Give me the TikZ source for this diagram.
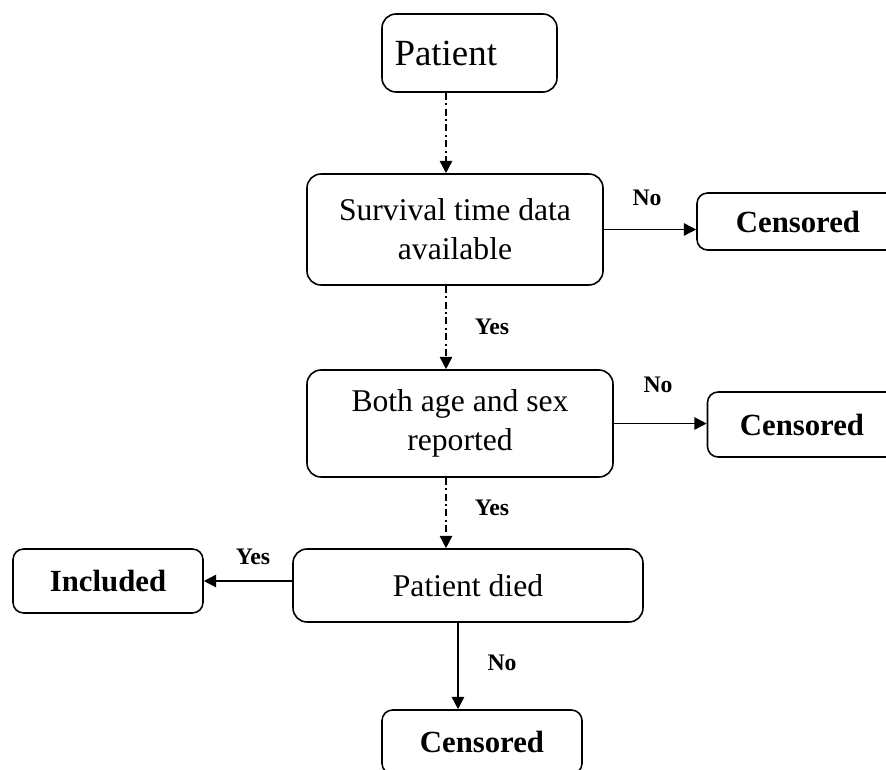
\documentclass[tikz,border=0pt]{standalone}
\usepackage{fontspec}
\setmainfont{Liberation Serif}
\usetikzlibrary{arrows.meta}

\begin{document}
\begin{tikzpicture}[
  line width=0.9pt, >={Triangle[length=7pt,width=7pt]},
    box/.style={draw, rounded corners=8pt, align=center,
                font=\fontsize{18}{22}\selectfont},
    cbox/.style={draw, rounded corners=6pt, align=center,
                font=\fontsize{17.5}{21.5}\selectfont\bfseries},
    ans/.style={font=\fontsize{13.5}{16}\selectfont\bfseries},
    dd/.style={dash pattern=on 4pt off 2pt on 1pt off 2pt},
]
\useasboundingbox (0,0) rectangle (17.72,15.38);
\clip (0,0) rectangle (17.72,15.38);
\node[box, font=\fontsize{21}{25}\selectfont, text width=3.0cm, inner xsep=0.25cm,
      align=left, minimum height=1.56cm] (patient) at (9.39,14.32) {Patient};
\node[box, minimum width=5.92cm, minimum height=2.22cm] (surv) at (9.10,10.79) {Survival time data\\available};
\node[box, minimum width=6.12cm, minimum height=2.14cm] (both) at (9.20,6.91) {Both age and sex\\reported};
\node[box, minimum width=7cm, minimum height=1.46cm] (died) at (9.36,3.67) {Patient died};
\node[cbox, minimum width=4.04cm, minimum height=1.14cm] (cens1) at (15.96,10.95) {Censored};
\node[cbox, minimum width=3.78cm, minimum height=1.3cm] (cens2) at (16.04,6.89) {Censored};
\node[cbox, minimum width=3.8cm, minimum height=1.28cm] (incl) at (2.16,3.76) {Included};
\node[cbox, minimum width=4cm, minimum height=1.28cm] (cens3) at (9.64,0.54) {Censored};
\coordinate (spine) at (8.92,0);
\coordinate (drop) at (9.16,0);
\draw[->, dd] (patient.south -| spine) -- (surv.north -| spine);
\draw[->, dd] (surv.south -| spine) -- (both.north -| spine);
\draw[->, dd] (both.south -| spine) -- (died.north -| spine);
\draw[->] (surv.east) -- (cens1.west |- surv.east);
\draw[->] (both.east) -- (cens2.west |- both.east);
\draw[->] (died.west |- incl.east) -- (incl.east);
\draw[->] (died.south -| drop) -- (cens3.north -| drop);
\node[ans] (no1) at (12.94,11.42) {No};
\node[ans] (yes1) at (9.84,8.84) {Yes};
\node[ans] (no2) at (13.16,7.68) {No};
\node[ans] (yes2) at (9.84,5.22) {Yes};
\node[ans] (yes3) at (5.06,4.24) {Yes};
\node[ans] (no3) at (10.04,2.12) {No};
\end{tikzpicture}
\end{document}
